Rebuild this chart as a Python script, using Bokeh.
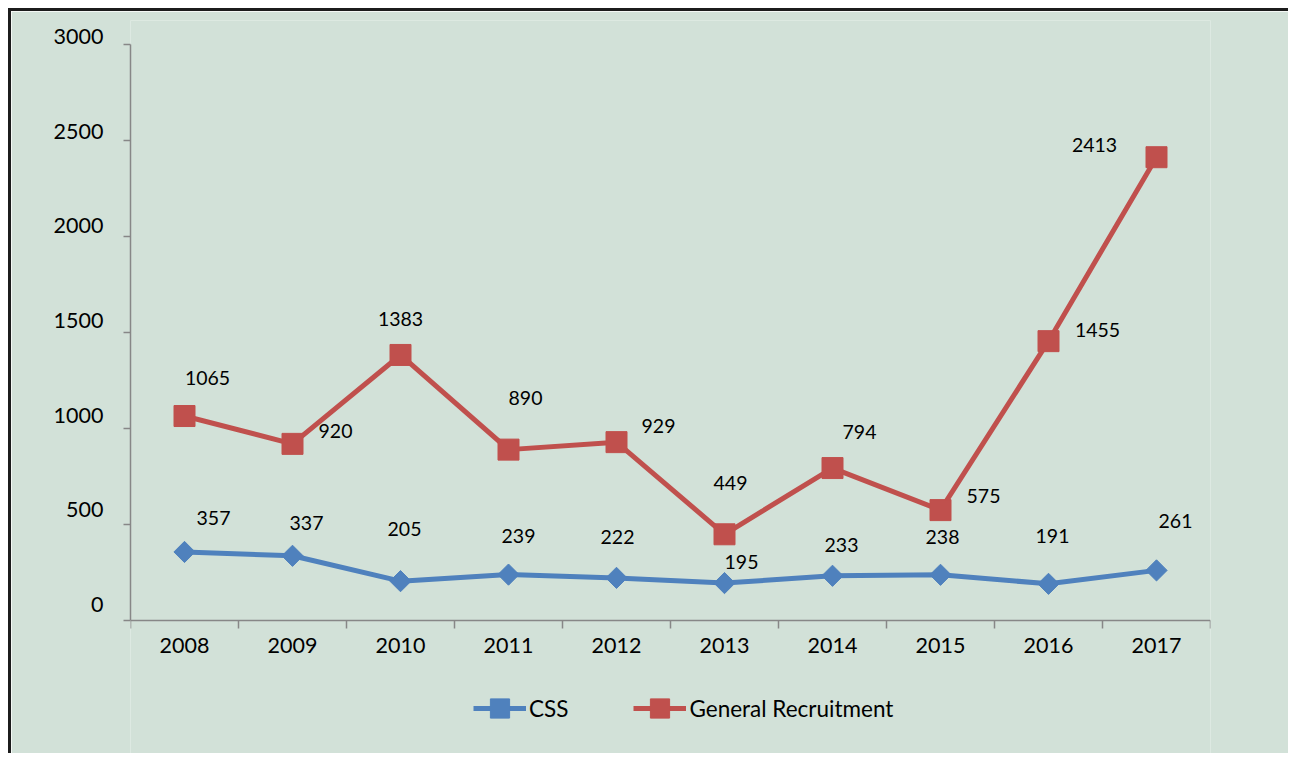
import math
from bokeh.plotting import figure
from bokeh.models import FixedTicker, LinearAxis, Range1d, Legend, LegendItem
from bokeh.core.properties import value
from bokeh.embed import file_html
from bokeh.resources import INLINE

# ---------------- data ----------------
years = ["2008", "2009", "2010", "2011", "2012", "2013", "2014", "2015", "2016", "2017"]
css = [357, 337, 205, 239, 222, 195, 233, 238, 191, 261]
general = [1065, 920, 1383, 890, 929, 449, 794, 575, 1455, 2413]
y_ticks = [0, 500, 1000, 1500, 2000, 2500, 3000]

# ---------------- label placement (screen px offsets) ----------------
css_dx = [29, 14, 4, 10, 1, 17, 9, 2, 4, 19]
css_dy = [-34, -33, -52, -39, -41, -21, -31, -38, -48, -49]
gen_dx = [23, 43, 0, 17, 42, 6, 27, 43, 49, -62]
gen_dy = [-38, -13, -36, -52, -16, -51, -36, -14, -11, -12]

# ---------------- style / layout ----------------
BG = "#D2E1D8"
BLUE = "#4F81BD"
RED = "#C0504D"
AXIS = "#878787"
FONT = "Lato"
# the frame runs down to the bottom of the canvas so that the legend sits inside it
Y_START, Y_END = -708.3, 3125
LAB_START, LAB_END = -802.8, 3084.5   # y tick labels sit a little above their ticks

x = list(range(len(years)))

p = figure(width=1280, height=745, output_backend="svg", toolbar_location=None,
           x_range=Range1d(-0.5, len(years) - 0.5), y_range=Range1d(Y_START, Y_END),
           min_border_left=119, min_border_right=81, min_border_top=9, min_border_bottom=0,
           background_fill_color=BG, border_fill_color=BG, outline_line_color=None)
p.margin = (8, 0, 0, 8)
p.styles = {"border-left": "3px solid #1c1c1c", "border-top": "3px solid #1c1c1c"}
p.xgrid.visible = False
p.ygrid.visible = False

# x axis at value 0: ticks at category boundaries, labels at centres
xa = p.xaxis[0]
xa.fixed_location = 0
xa.ticker = FixedTicker(ticks=x, minor_ticks=[i - 0.5 for i in range(len(years) + 1)])
xa.major_label_overrides = {i: y for i, y in enumerate(years)}
xa.major_tick_out = 0
xa.major_tick_in = 0
xa.minor_tick_out = 8
xa.minor_tick_in = 0
xa.axis_line_color = AXIS
xa.axis_line_width = 1.5
xa.minor_tick_line_color = AXIS
xa.minor_tick_line_width = 1.5
xa.major_label_standoff = 9
xa.major_label_text_font = FONT
xa.major_label_text_font_size = "21.5px"
xa.major_label_text_color = "black"

# y axis: line + ticks
ya = p.yaxis[0]
ya.ticker = FixedTicker(ticks=[], minor_ticks=y_ticks)
ya.bounds = (0, 3000)
ya.major_tick_out = 7
ya.major_tick_in = 0
ya.minor_tick_out = 7
ya.minor_tick_in = 0
ya.axis_line_color = AXIS
ya.axis_line_width = 1.5
ya.minor_tick_line_color = AXIS
ya.minor_tick_line_width = 1.5
ya.major_label_standoff = 0

# y labels on a slightly shifted range
p.extra_y_ranges = {"lab": Range1d(LAB_START, LAB_END)}
la = LinearAxis(y_range_name="lab", ticker=FixedTicker(ticks=y_ticks))
la.axis_line_color = None
la.major_tick_line_color = None
la.minor_tick_line_color = None
la.major_tick_out = 0
la.major_tick_in = 0
la.major_label_standoff = 20
la.major_label_text_font = FONT
la.major_label_text_font_size = "21.5px"
la.major_label_text_color = "black"
p.add_layout(la, "left")

# series
css_line = p.line(x, css, line_color=BLUE, line_width=5)
css_pts = p.scatter(x, css, marker="square", angle=math.pi / 4, size=15,
                    fill_color=BLUE, line_color=BLUE)
gen_line = p.line(x, general, line_color=RED, line_width=5)
gen_pts = p.scatter(x, general, marker="square", size=21, fill_color=RED, line_color=RED)

p.text(x=x, y=css, text=[str(v) for v in css], x_offset=css_dx, y_offset=css_dy,
       text_align="center", text_baseline="middle", text_font=value(FONT),
       text_font_size="19.5px", text_color="black")
p.text(x=x, y=general, text=[str(v) for v in general], x_offset=gen_dx, y_offset=gen_dy,
       text_align="center", text_baseline="middle", text_font=value(FONT),
       text_font_size="19.5px", text_color="black")

legend = Legend(items=[LegendItem(label="CSS", renderers=[css_line, css_pts]),
                       LegendItem(label="General Recruitment", renderers=[gen_line, gen_pts])],
                location=(343, 24), orientation="horizontal")
legend.padding = 0
legend.margin = 0
legend.spacing = 65
legend.label_standoff = 3
legend.glyph_width = 53
legend.glyph_height = 48
legend.label_height = 48
legend.border_line_color = None
legend.background_fill_color = None
legend.label_text_font = FONT
legend.label_text_font_size = "22.5px"
legend.label_text_color = "black"
p.add_layout(legend, "center")

open("out.html", "w").write(file_html(p, INLINE))
